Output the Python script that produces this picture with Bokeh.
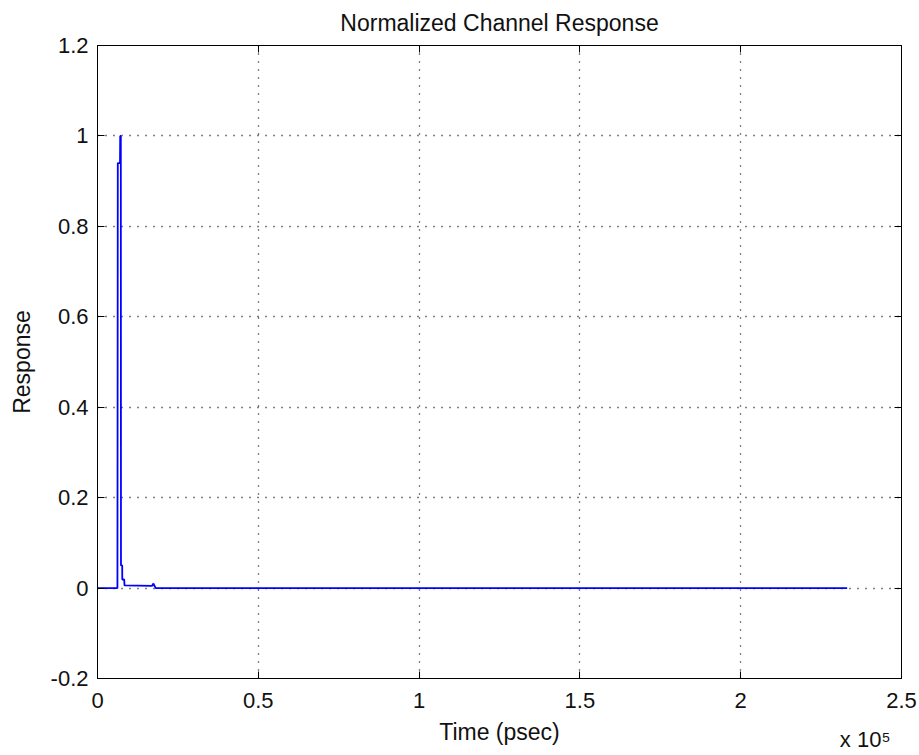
from bokeh.plotting import figure
from bokeh.models import LinearAxis, FixedTicker, Range1d, Title, ColumnDataSource
from bokeh.embed import file_html
from bokeh.resources import INLINE

# Normalized channel impulse response, time in picoseconds
time_ps = [0, 6200, 6312, 7000, 7060, 7250, 7300, 7680, 7700, 8300, 8400,
           17000, 17400, 17800, 18100, 233100]
response = [0, 0, 0.94, 0.94, 1.0, 1.0, 0.05, 0.05, 0.019, 0.019, 0.006,
            0.005, 0.010, 0.004, 0, 0]

x_ticks = [0, 50000, 100000, 150000, 200000, 250000]
x_tick_labels = ["0", "0.5", "1", "1.5", "2", "2.5"]
y_ticks = [-0.2, 0, 0.2, 0.4, 0.6, 0.8, 1.0, 1.2]
y_tick_labels = ["-0.2", "0", "0.2", "0.4", "0.6", "0.8", "1", "1.2"]

FONT = "Liberation Sans"
TXT = "#111111"

p = figure(width=919, height=755, output_backend="svg", toolbar_location=None,
           x_range=Range1d(0, 250000), y_range=Range1d(-0.2, 1.2),
           x_axis_location=None, y_axis_location=None, title_location=None,
           min_border_left=97, min_border_right=18, min_border_top=45,
           min_border_bottom=77)
p.background_fill_color = "white"
p.border_fill_color = "white"
p.outline_line_color = "black"
p.outline_line_width = 1


def make_axis(ticks, labels, show_labels):
    ax = LinearAxis(ticker=FixedTicker(ticks=ticks))
    ax.major_tick_in = 7
    ax.major_tick_out = 0
    ax.minor_tick_in = 0
    ax.minor_tick_out = 0
    ax.axis_line_color = "black"
    ax.major_tick_line_color = "black"
    ax.major_label_text_font = FONT
    ax.major_label_text_color = TXT
    ax.axis_label_text_font = FONT
    ax.axis_label_text_font_size = "23px"
    ax.axis_label_text_font_style = "normal"
    ax.axis_label_text_color = TXT
    if show_labels:
        ax.major_label_text_font_size = "22px"
        ax.major_label_overrides = {t: l for t, l in zip(ticks, labels)}
    else:
        ax.major_label_text_font_size = "1px"
        ax.major_label_standoff = 0
        ax.major_label_overrides = {t: "" for t in ticks}
    return ax


xb = make_axis(x_ticks, x_tick_labels, True)
xb.axis_label = "Time (psec)"
xb.major_label_standoff = 14
xb.axis_label_standoff = 8
p.add_layout(xb, "below")

yl = make_axis(y_ticks, y_tick_labels, True)
yl.axis_label = "Response"
yl.major_label_standoff = 9
yl.axis_label_standoff = 13
p.add_layout(yl, "left")

p.add_layout(make_axis(x_ticks, x_tick_labels, False), "above")
p.add_layout(make_axis(y_ticks, y_tick_labels, False), "right")

# title sits above the (label-less) top axis
p.add_layout(Title(text="Normalized Channel Response", align="center",
                   vertical_align="top", text_font=FONT,
                   text_font_size="23px", text_font_style="normal",
                   text_color=TXT, standoff=16),
             "above")

# exponent note for the time axis, tucked under the right end of the axis
p.add_layout(Title(text="x 10\u2075", align="right", vertical_align="top",
                   offset=11, standoff=-42, text_font=FONT,
                   text_font_size="22px", text_font_style="normal",
                   text_color=TXT),
             "below")

# dotted grid
p.xgrid.ticker = FixedTicker(ticks=x_ticks)
p.ygrid.ticker = FixedTicker(ticks=y_ticks)
for g in (p.xgrid, p.ygrid):
    g.grid_line_color = "black"
    g.grid_line_dash = "1 7"
    g.grid_line_width = 1.3

src = ColumnDataSource(dict(t=time_ps, r=response))
p.line("t", "r", source=src, line_color="#0000ff", line_width=1.8)

open("out.html", "w").write(file_html(p, INLINE))
